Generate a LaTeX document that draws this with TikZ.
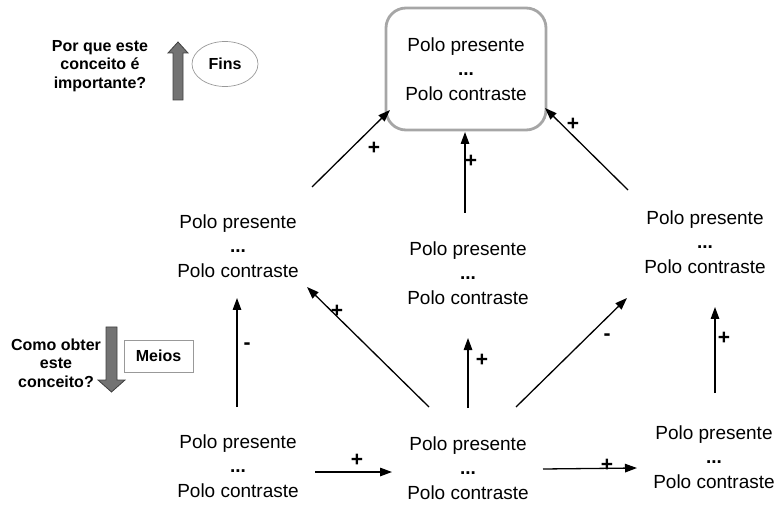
\documentclass[tikz,border=0pt]{standalone}
\usepackage{fontspec}
\setmainfont{Liberation Sans}
\usetikzlibrary{arrows.meta,calc,shapes.geometric}

\tikzset{
  pole/.style={align=center,font=\fontsize{19}{25}\selectfont,inner sep=0pt},
  hint/.style={align=center,font=\bfseries\fontsize{16}{18.5}\selectfont,inner sep=0pt},
  sign/.style={font=\bfseries\fontsize{21}{21}\selectfont,inner sep=0pt},
  link/.style={line width=1.3pt,-{Triangle[length=12pt,width=8.5pt]}},
  bigarrow/.style={fill=gray!90!black,draw=black!75,line width=0.8pt,line join=miter},
}
\newcommand{\polos}{Polo presente\\[-1pt]\textbf{...}\\Polo contraste}

\begin{document}
\begin{tikzpicture}[x=1pt,y=-1pt]
\useasboundingbox (0,0) rectangle (777,505);

% concept nodes
\node[pole,draw=gray!70,line width=2.8pt,rounded corners=20pt,
      minimum width=160pt,minimum height=122pt] (T) at (466,69) {\polos};
\node[pole] (L)  at (238,246) {\polos};
\node[pole] (C)  at (468,273) {\polos};
\node[pole] (R)  at (705,242) {\polos};
\node[pole] (BL) at (238,466) {\polos};
\node[pole] (BC) at (468,468) {\polos};
\node[pole] (BR) at (714,457) {\polos};

% legend: ends and means
\node[hint] (why) at (100,66) {Por que este\\conceito é\\importante?};
\draw[bigarrow] (173,100) -- (173,53) -- (168,53) -- (178,42) -- (188,53)
  -- (183,53) -- (183,100) -- cycle;
\node[hint,draw=gray!80,line width=0.7pt,ellipse,minimum width=66pt,
      minimum height=45pt] (fins) at (225,64) {Fins};

\node[hint] (how) at (56,363) {Como obter\\este\\conceito?};
\draw[bigarrow] (106,327) -- (117,327) -- (117,380) -- (125,380) -- (111.5,392)
  -- (98,380) -- (106,380) -- cycle;
\node[hint,draw=gray!80,line width=0.7pt,minimum width=69pt,
      minimum height=32pt] (meios) at (158.5,356) {Meios};

% links between concepts
\draw[link] ($(L)+(74,-59)$)  -- ($(T)+(-76,41)$);
\draw[link] ($(C)+(-3,-60)$)  -- ($(T)+(-1,63)$);
\draw[link] ($(R)+(-77,-52)$) -- ($(T)+(79,39)$);
\draw[link] ($(BL)+(-1,-59)$) -- ($(L)+(-1,52)$);
\draw[link] ($(BC)+(-39,-61)$) -- ($(L)+(69,41)$);
\draw[link] ($(BC)+(0,-60)$)  -- ($(C)+(0,65)$);
\draw[link] ($(BC)+(48,-61)$) -- ($(R)+(-78,56)$);
\draw[link] ($(BR)+(1,-64)$)  -- ($(R)+(10,65)$);
\draw[link] ($(BL)+(77,6)$)   -- ($(BC)+(-76,4)$);
\draw[link] ($(BC)+(75,1)$)   -- ($(BR)+(-77,11)$);

% link signs
\node[sign] (s1)  at (374,148) {+};
\node[sign] (s2)  at (471,161) {+};
\node[sign] (s3)  at (573,124) {+};
\node[sign] (s4)  at (247,346) {-};
\node[sign] (s5)  at (337,311) {+};
\node[sign] (s6)  at (482,360) {+};
\node[sign] (s7)  at (607,337) {-};
\node[sign] (s8)  at (724,338) {+};
\node[sign] (s9)  at (357,460) {+};
\node[sign] (s10) at (607,465) {+};
\end{tikzpicture}
\end{document}
